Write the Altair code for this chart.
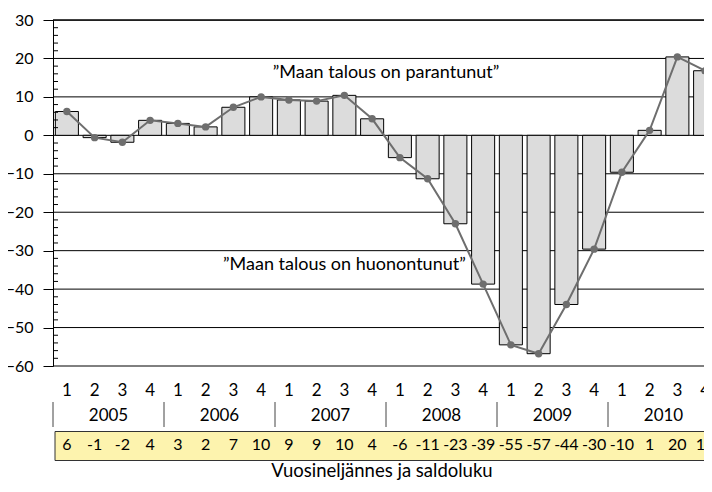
import altair as alt
import pandas as pd

years = ["2005", "2006", "2007", "2008", "2009", "2010"]
quarters = ["1", "2", "3", "4"]
saldo = [6.2, -0.6, -1.8, 3.9, 3.1, 2.2, 7.3, 10.0, 9.2, 8.9, 10.4, 4.3,
         -5.8, -11.3, -23.0, -38.7, -54.5, -56.8, -44.0, -29.6, -9.6, 1.3, 20.4, 16.8]
saldo_labels = ["6", "-1", "-2", "4", "3", "2", "7", "10", "9", "9", "10", "4",
                "-6", "-11", "-23", "-39", "-55", "-57", "-44", "-30", "-10", "1", "20", "17"]
notes = ["\u201dMaan talous on parantunut\u201d", "\u201dMaan talous on huonontunut\u201d"]
note_x = [12.0, 10.5]
note_y = [16.1, -33.6]
y_ticks = [-60, -50, -40, -30, -20, -10, 0, 10, 20, 30]
x_title = "Vuosineljännes ja saldoluku"

FONT = "Lato"
n = len(saldo)
df = pd.DataFrame({
    "mid": [i + 0.5 for i in range(n)],
    "x0": [i + 0.085 for i in range(n)],
    "x1": [i + 0.915 for i in range(n)],
    "saldo": saldo,
    "label": saldo_labels,
    "q": quarters * len(years),
})
yr = pd.DataFrame({"year": years, "mid": [4 * k + 2 for k in range(len(years))]})
sep = pd.DataFrame({"xs": [4 * k for k in range(len(years) + 1)]})
minor = pd.DataFrame({"v": [v for v in range(-58, 30, 2) if v % 10 != 0]})
grid = pd.DataFrame({"g": y_ticks})
nd = pd.DataFrame({"t": notes, "x": note_x, "y": note_y})
one = pd.DataFrame({"a": [0]})

PLOT_W = 651
xscale = alt.Scale(domain=[0, PLOT_W / 27.75], nice=False, zero=False)
yscale = alt.Scale(domain=[-60, 30], nice=False, zero=False)
yaxis = alt.Axis(
    values=y_ticks, tickCount=10, grid=False, labelOverlap=False, labelFlush=False,
    domainColor="#000000", domainWidth=1,
    tickColor="#000000", tickSize=10, tickWidth=1,
    labelFontSize=16, labelFont=FONT, labelColor="#000000",
    labelPadding=10, title=None)


def Y(field):
    return alt.Y(field, scale=yscale, axis=yaxis)


def X(field):
    return alt.X(field, scale=xscale, axis=None)


base = alt.Chart(df)

gridlines = alt.Chart(grid).mark_rule(color="#000000", strokeWidth=1).encode(
    y=Y("g:Q"), x=alt.value(0), x2=alt.value(720))
topline = alt.Chart(one).mark_rect(color="#000000").encode(
    x=alt.value(0), x2=alt.value(720), y=alt.value(-0.5), y2=alt.value(0.7))

bars = base.mark_bar(fill="#DCDCDC", stroke="#000000", strokeWidth=1).encode(
    x=X("x0:Q"), x2="x1:Q", y=Y("saldo:Q"), y2=alt.datum(0))

minor_ticks = alt.Chart(minor).mark_rule(color="#000000", strokeWidth=1).encode(
    y=Y("v:Q"), x=alt.value(0), x2=alt.value(5))

line = base.mark_line(color="#6E6E6E", strokeWidth=2).encode(x=X("mid:Q"), y=Y("saldo:Q"))
pts = base.mark_circle(size=55, color="#6E6E6E", opacity=1).encode(x=X("mid:Q"), y=Y("saldo:Q"))

ann = alt.Chart(nd).mark_text(font=FONT, fontSize=18, color="#000000", baseline="middle").encode(
    x=X("x:Q"), y=Y("y:Q"), text="t:N")

qlab = base.mark_text(font=FONT, fontSize=17, color="#000000", baseline="middle").encode(
    x=X("mid:Q"), y=alt.value(371), text="q:N")
ylab = alt.Chart(yr).mark_text(font=FONT, fontSize=17, color="#000000", baseline="middle").encode(
    x=X("mid:Q"), y=alt.value(396), text="year:N")
seps = alt.Chart(sep).mark_rule(color="#444444", strokeWidth=1).encode(
    x=X("xs:Q"), y=alt.value(382), y2=alt.value(407))
box = alt.Chart(one).mark_rect(fill="#FDF3AE", stroke="#333333", strokeWidth=1).encode(
    x=alt.value(2), x2=alt.value(720), y=alt.value(411.5), y2=alt.value(440.5))
vlab = base.mark_text(font=FONT, fontSize=16, color="#000000", baseline="middle").encode(
    x=X("mid:Q"), y=alt.value(425), text="label:N")
title = alt.Chart(one).mark_text(font=FONT, fontSize=18.5, color="#000000", baseline="alphabetic").encode(
    x=alt.value(329), y=alt.value(457), text=alt.value(x_title))

chart = alt.layer(gridlines, topline, bars, line, pts, minor_ticks, ann, qlab, ylab, seps, box, vlab, title).properties(
    width=PLOT_W, height=346,
    padding={"left": 45, "top": 12, "right": 0, "bottom": 114},
    autosize=alt.AutoSizeParams(type="none"),
).configure_view(stroke=None)

chart.save("out.html", embed_options={"renderer": "svg", "actions": False})
